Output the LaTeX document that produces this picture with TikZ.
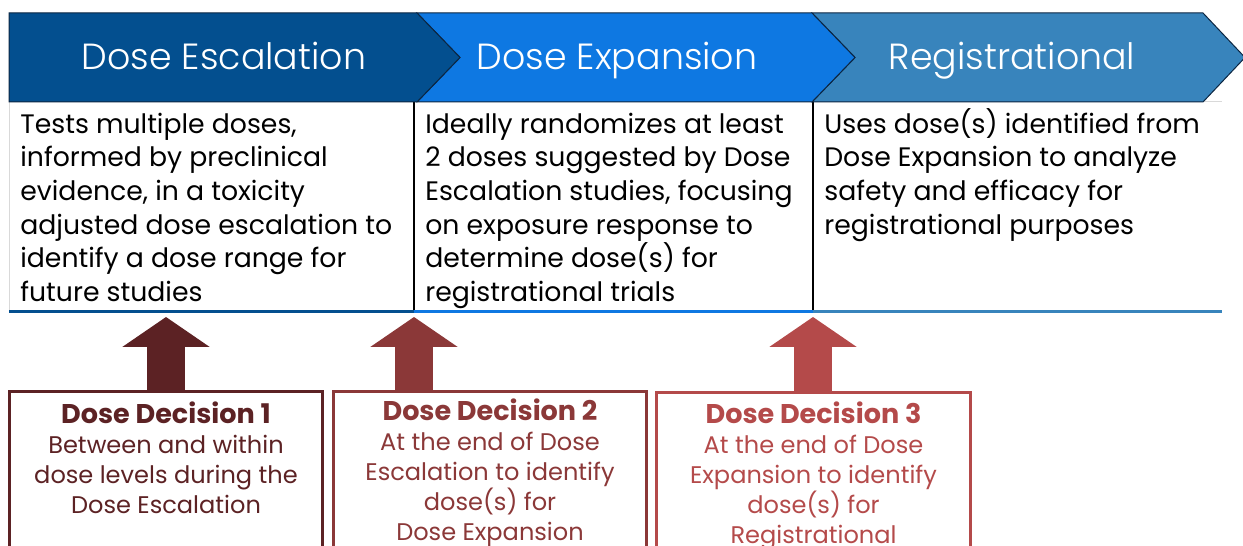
\documentclass[tikz,border=0pt]{standalone}
\usepackage{fontspec}
\setmainfont{Poppins}
\newfontfamily\lightfont{Poppins Light}
\usetikzlibrary{arrows.meta}
\usetikzlibrary{positioning}
\definecolor{escblue}{RGB}{3,79,143}
\definecolor{expblue}{RGB}{14,120,226}
\definecolor{regblue}{RGB}{56,132,188}
\definecolor{navyline}{RGB}{12,38,66}
\definecolor{decone}{RGB}{92,34,36}
\definecolor{dectwo}{RGB}{139,56,56}
\definecolor{decthree}{RGB}{180,74,74}
\newcommand\dectitle{\bfseries\fontsize{15.4}{17}\selectfont}
\newcommand\bodytop{\rule{0pt}{25pt}}
\newcommand\dectop{\rule{0pt}{15pt}}

\begin{document}
\begin{tikzpicture}[x=0.02cm,y=0.02cm,
  phase box/.style={draw=navyline,line width=0.02cm},
  phase node/.style={text=white,anchor=base,font=\lightfont\fontsize{20.7}{25}\selectfont},
  body node/.style={anchor=north west,inner sep=0pt,align=left,font=\fontsize{15.2}{19.1}\selectfont},
  decision node/.style={rectangle,draw,line width=0.06cm,minimum width=6.28cm,minimum height=4cm,anchor=north},
  decision text/.style={inner sep=0pt,align=center,font=\fontsize{13.7}{17}\selectfont},
  decision arrow/.style={line width=0.76cm,-{Triangle[length=0.6cm,width=1.72cm]}}]

  \useasboundingbox (0,0) rectangle (1243,546);
  \clip (0,0) rectangle (1243,546);

  % table
  \draw[gray!30,line width=0.02cm] (9,234) -- (9,444) -- (1222,444);
  \draw[line width=0.03cm] (414,444) -- (414,234) (813,444) -- (813,234);
  \draw[escblue,line width=0.06cm] (9,234) -- (414,234);
  \draw[expblue,line width=0.06cm] (414,234) -- (813,234);
  \draw[regblue,line width=0.06cm] (813,234) -- (1222,234);

  % phases
  \draw[phase box,fill=regblue] (812,533) -- (1203,533) -- (1245,488.5) -- (1203,444) -- (812,444) -- (855,488.5) -- cycle;
  \draw[phase box,fill=expblue] (417,533) -- (812,533) -- (855,488.5) -- (812,444) -- (417,444) -- (460,488.5) -- cycle;
  \draw[phase box,fill=escblue] (9,533) -- (417,533) -- (460,488.5) -- (417,444) -- (9,444) -- cycle;

  \node[phase node] (EscH) at (224,476) {Dose Escalation};
  \node[phase node] (ExpH) at (617,476) {Dose Expansion};
  \node[phase node] (RegH) at (1012,476) {Registrational};

  \node[body node] (EscT) at (20,456.9) {\bodytop Tests multiple doses,\\informed by preclinical\\evidence, in a toxicity\\adjusted dose escalation to\\identify a dose range for\\future studies};
  \node[body node] (ExpT) at (425,456.9) {\bodytop Ideally randomizes at least\\2 doses suggested by Dose\\Escalation studies, focusing\\on exposure response to\\determine dose(s) for\\registrational trials};
  \node[body node] (RegT) at (824,456.9) {\bodytop Uses dose(s) identified from\\Dose Expansion to analyze\\safety and efficacy for\\registrational purposes};

  % decisions
  \node[decision node,draw=decone] (DD1) at (166,156) {};
  \node[decision node,draw=dectwo] (DD2) at (490,156) {};
  \node[decision node,draw=decthree] (DD3) at (813.5,155) {};

  \node[decision text,text=decone,below=0.14cm of DD1.north] (DT1) {\dectop{\dectitle Dose Decision 1}\\Between and within\\dose levels during the\\Dose Escalation};
  \node[decision text,text=dectwo,below=0.08cm of DD2.north] (DT2) {\dectop{\dectitle Dose Decision 2}\\At the end of Dose\\Escalation to identify\\dose(s) for\\Dose Expansion};
  \node[decision text,text=decthree,below=0.12cm of DD3.north] (DT3) {\dectop{\dectitle Dose Decision 3}\\At the end of Dose\\Expansion to identify\\dose(s) for\\Registrational};

  \coordinate (A1) at (166,229);
  \coordinate (A2) at (414,229);
  \coordinate (A3) at (813,229);

  \path[decision arrow]
    (A1 |- DD1.north) edge[decone] (A1)
    (A2 |- DD2.north) edge[dectwo] (A2)
    (A3 |- DD3.north) edge[decthree] (A3);

\end{tikzpicture}
\end{document}
